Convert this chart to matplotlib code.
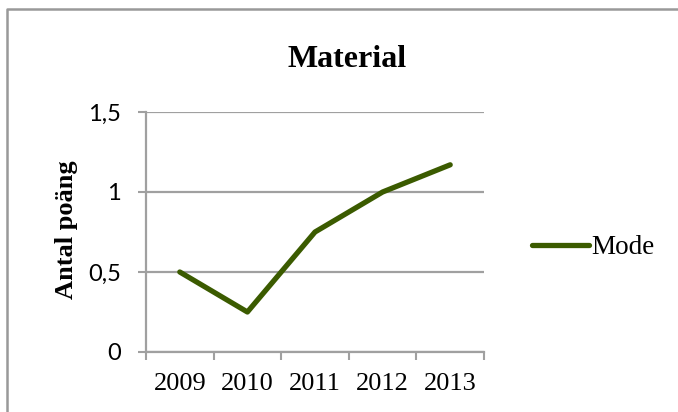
import numpy as np
import matplotlib
matplotlib.use("Agg")
import matplotlib.pyplot as plt
from matplotlib.lines import Line2D

# data
years = ["2009", "2010", "2011", "2012", "2013"]
mode = [0.5, 0.25, 0.75, 1.0, 1.17]
yticks = [0, 0.5, 1, 1.5]
ytick_labels = ["0", "0,5", "1", "1,5"]

green = "#3b5b00"
grey = "#a0a0a0"
serif = "Liberation Serif"

fig = plt.figure(figsize=(6.78, 4.12), dpi=100)
W, H = 678, 412
ax = fig.add_axes([146/W, 1-352/H, (484-146)/W, (352-112)/H])

x = np.arange(len(years))
ax.plot(x, mode, color=green, lw=3.8, solid_capstyle="round", label="Mode")

ax.set_xlim(-0.5, len(years)-0.5)
ax.set_ylim(0, 1.5)

# category boundaries get the tick marks, labels sit in between
ax.set_xticks(np.arange(-0.5, len(years)), labels=[])
ax.set_xticks(x, labels=years, minor=True)
ax.tick_params(axis="x", which="major", direction="out", length=6, width=1.5, color=grey)
ax.tick_params(axis="x", which="minor", length=0, pad=15, labelsize=19)
for t in ax.get_xticklabels(minor=True):
    t.set_fontfamily(serif)

ax.set_yticks(yticks, labels=ytick_labels)
ax.tick_params(axis="y", direction="out", length=6, width=1.5, color=grey, pad=12, labelsize=17)
for t in ax.get_yticklabels():
    t.set_fontfamily("Lato")

ax.grid(axis="y", color=grey, lw=1.6)
ax.set_axisbelow(True)
for s in ["top", "right"]:
    ax.spines[s].set_visible(False)
for s in ["left", "bottom"]:
    ax.spines[s].set_color(grey)
    ax.spines[s].set_linewidth(1.6)
ax.spines["bottom"].set_zorder(0.5)

fig.text(347.5/W, 1-67/H, "Material", ha="center", va="baseline",
         fontsize=23, fontweight="bold", fontfamily=serif)
fig.text(67/W, 1-230/H, "Antal poäng", ha="center", va="center", rotation=90,
         fontsize=19, fontweight="bold", fontfamily=serif)

ax.legend(loc="center left", bbox_to_anchor=(532/W, 1-248/H), bbox_transform=fig.transFigure,
          frameon=False, borderpad=0, borderaxespad=0, handlelength=2.1, handletextpad=0.1,
          prop={"family": serif, "size": 19.5})

# chart frame (only the left and top edges fall inside the image)
fx, fy = 7/W, 1-9/H
fig.lines.append(Line2D([fx, fx, 1.0], [0.0, fy, fy], transform=fig.transFigure,
                        color="#999999", lw=1.8))

fig.savefig("out.png", dpi=100)
